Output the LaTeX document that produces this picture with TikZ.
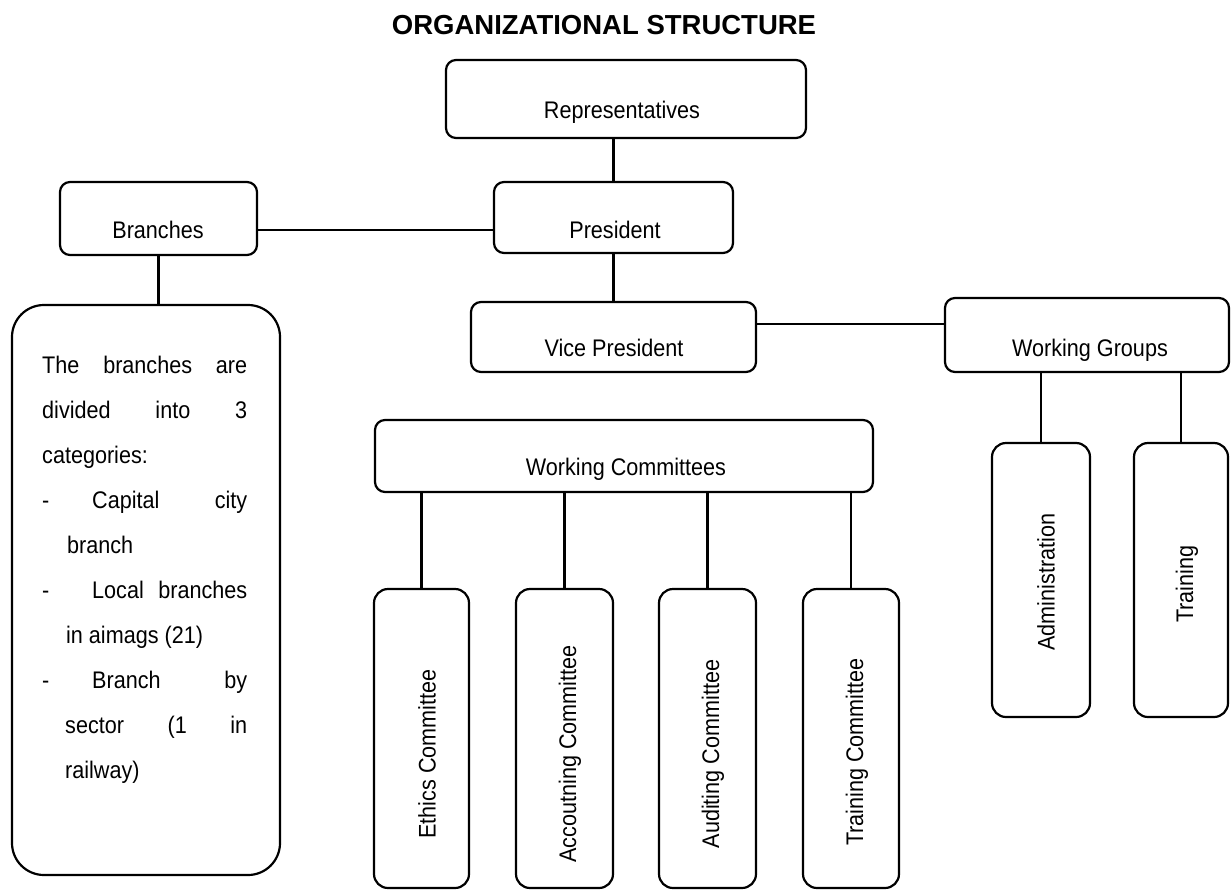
\documentclass[tikz,border=0pt]{standalone}
\usepackage{fontspec}
\setmainfont{Liberation Sans}[FakeStretch=0.9]
\newfontfamily\titlefont{Liberation Sans}
\begin{document}
\begin{tikzpicture}[x=1pt,y=-1pt,
  box/.style={draw=black, line width=2.2pt, rounded corners=10pt, inner sep=0pt, fill=white},
  tallbox/.style={box, rounded corners=14pt},
  bigbox/.style={box, rounded corners=32pt},
  lbl/.style={font=\fontsize{24}{28}\selectfont, inner sep=0pt, anchor=base},
  rlbl/.style={font=\fontsize{24}{28}\selectfont, inner sep=0pt, anchor=center, rotate=90},
  para/.style={font=\fontsize{24}{28}\selectfont, inner sep=0pt, anchor=base west},
  conn/.style={line width=2.2pt}]
\useasboundingbox (0,0) rectangle (1231,891);
\fill[white] (0,0) rectangle (1231,891);

% title
\node[font=\titlefont\bfseries\fontsize{27.5}{30}\selectfont, inner sep=0pt, anchor=base] (title) at (604,35) {ORGANIZATIONAL STRUCTURE};

% boxes
\node[box, minimum width=360pt, minimum height=78pt] (rep) at (626,99) {};
\node[box, minimum width=239pt, minimum height=71pt] (pres) at (613.5,217.5) {};
\node[box, minimum width=197pt, minimum height=73pt] (br) at (158.5,218.5) {};
\node[bigbox, minimum width=268pt, minimum height=570pt] (big) at (146,590) {};
\node[box, minimum width=285pt, minimum height=70pt] (vp) at (613.5,337) {};
\node[box, minimum width=284pt, minimum height=74pt] (wg) at (1087,335) {};
\node[tallbox, minimum width=98pt, minimum height=274pt] (adm) at (1041,580) {};
\node[tallbox, minimum width=94pt, minimum height=274pt] (trg) at (1181,580) {};
\node[box, minimum width=498pt, minimum height=72pt] (wc) at (624,456) {};
\node[tallbox, minimum width=95pt, minimum height=299pt] (eth) at (421.5,738.5) {};
\node[tallbox, minimum width=97pt, minimum height=299pt] (acc) at (564.5,738.5) {};
\node[tallbox, minimum width=97pt, minimum height=299pt] (aud) at (707.5,738.5) {};
\node[tallbox, minimum width=96pt, minimum height=299pt] (trc) at (851,738.5) {};

% labels
\node[lbl] (repT) at (622,118) {Representatives};
\node[lbl] (presT) at (615,238) {President};
\node[lbl] (brT) at (158,238) {Branches};
\node[lbl] (vpT) at (614,356) {Vice President};
\node[lbl] (wgT) at (1090,356) {Working Groups};
\node[lbl] (wcT) at (626,475) {Working Committees};
\node[rlbl] (admT) at (1046,582) {Administration};
\node[rlbl] (trgT) at (1187,584) {Training};
\node[rlbl] (ethT) at (427,754) {Ethics Committee};
\node[rlbl] (accT) at (570,754) {Accoutning Committee};
\node[rlbl] (audT) at (713,754) {Auditing Committee};
\node[rlbl] (trcT) at (857,752) {Training Committee};

% paragraph in the big box
\node[para] (l1) at (42,373) {\hbox to 205pt{The\hfil branches\hfil are}};
\node[para] (l2) at (42,418) {\hbox to 205pt{divided\hfil into\hfil 3}};
\node[para] (l3) at (42,463) {categories:};
\node[para] (l4) at (42,508) {\hbox to 205pt{\makebox[50pt][l]{-}Capital\hfil city}};
\node[para] (l5) at (67,553) {branch};
\node[para] (l6) at (42,598) {\hbox to 205pt{\makebox[50pt][l]{-}Local\hfil branches}};
\node[para] (l7) at (66,643) {in aimags (21)};
\node[para] (l8) at (42,688) {\hbox to 205pt{\makebox[50pt][l]{-}Branch\hfil by}};
\node[para] (l9) at (65,733) {\hbox to 182pt{sector\hfil (1\hfil in}};
\node[para] (l10) at (65,778) {railway)};

% connectors
\draw[conn] (pres.north) -- (pres.north |- rep.south);
\draw[conn] (br.east |- 0,230) -- (pres.west |- 0,230);
\draw[conn] (br.south) -- (br.south |- big.north);
\draw[conn] (pres.south) -- (pres.south |- vp.north);
\draw[conn] (vp.east |- 0,324) -- (wg.west |- 0,324);
\draw[conn] (adm.north) -- (adm.north |- wg.south);
\draw[conn] (trg.north) -- (trg.north |- wg.south);
\draw[conn] (eth.north) -- (eth.north |- wc.south);
\draw[conn] (acc.north) -- (acc.north |- wc.south);
\draw[conn] (aud.north) -- (aud.north |- wc.south);
\draw[conn] (trc.north) -- (trc.north |- wc.south);
\end{tikzpicture}
\end{document}
